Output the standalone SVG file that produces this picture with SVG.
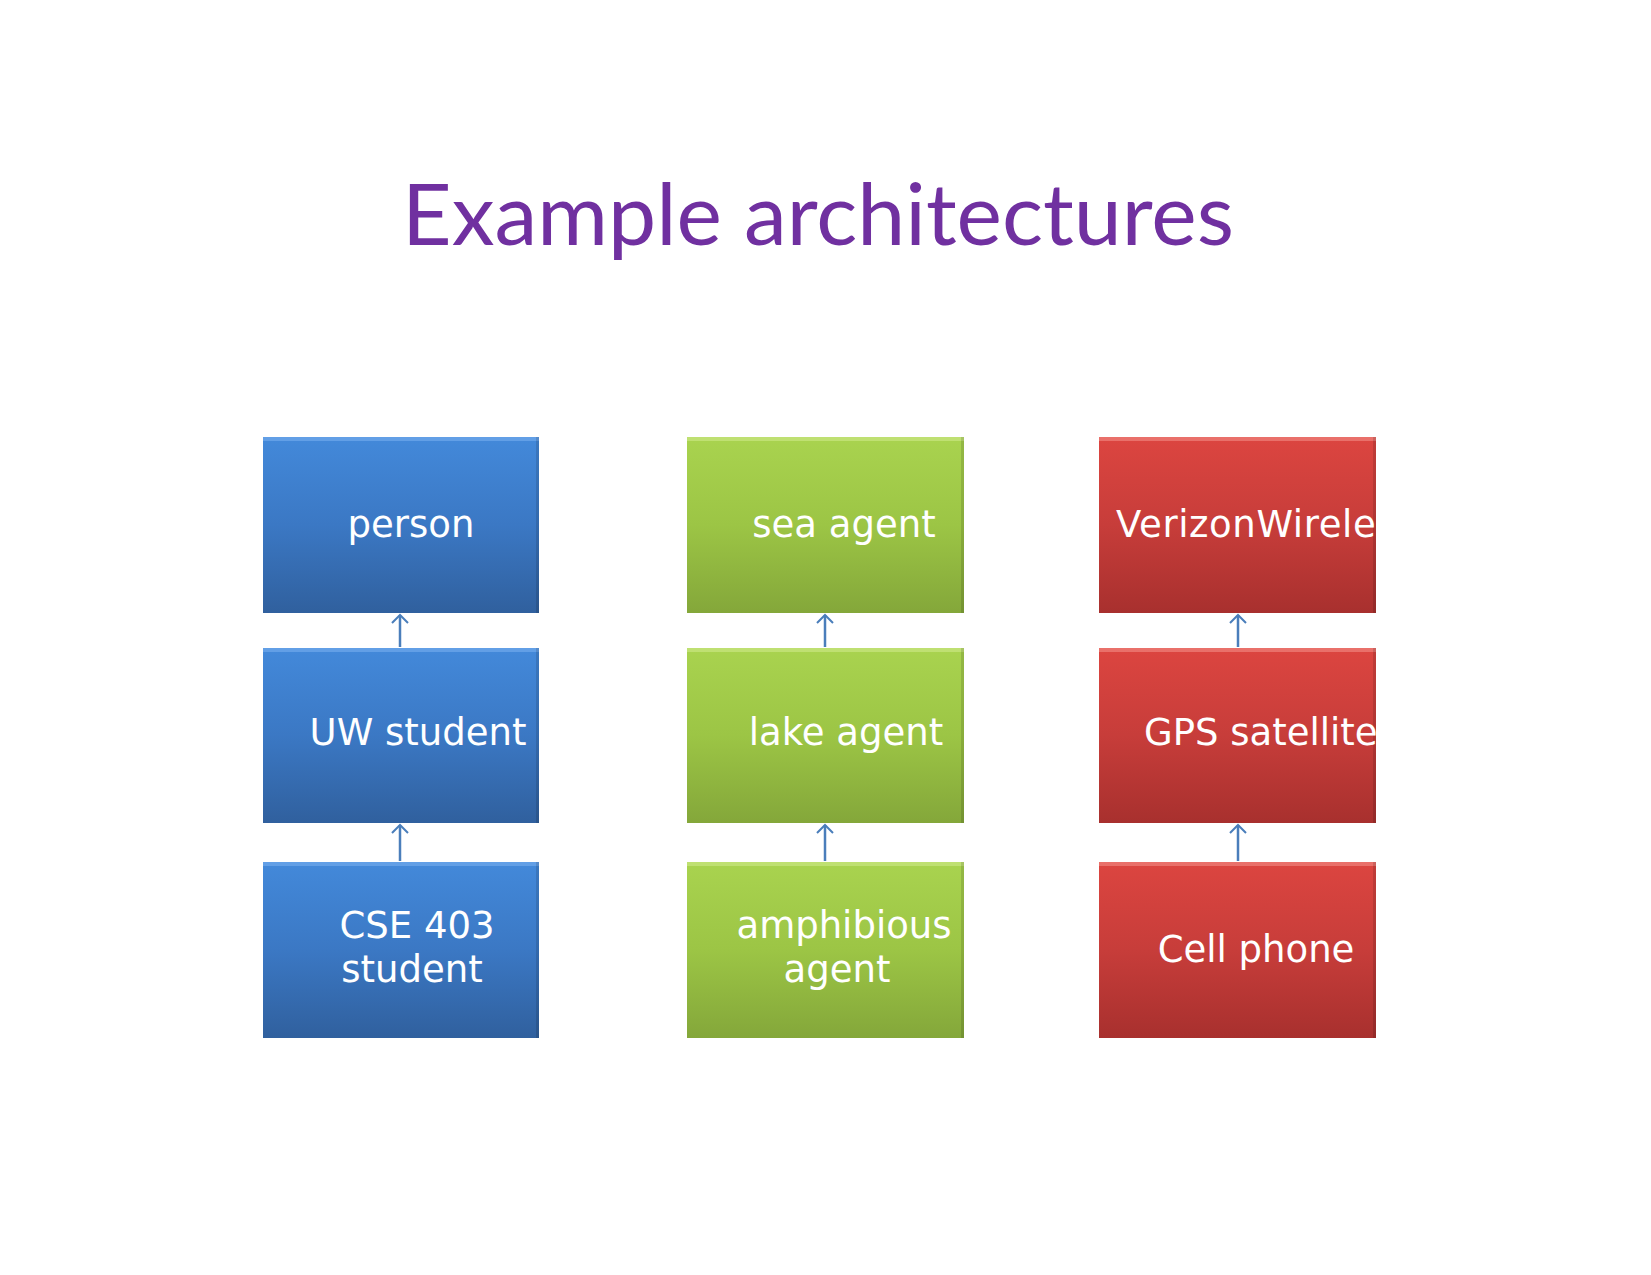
<svg xmlns="http://www.w3.org/2000/svg" width="1651" height="1275" viewBox="0 0 1651 1275">
<style>
.lbl{font-family:"DejaVu Sans",sans-serif;font-size:37px;fill:#ffffff;text-anchor:middle}
.lft{text-anchor:start}
.title{font-family:Lato,"Open Sans",sans-serif;font-size:86px;fill:#7030A0;text-anchor:middle}
.conn{stroke:#4A7EBB;stroke-width:2.5;fill:none;marker-end:url(#arr)}
.hiB{fill:#6AA5E8;opacity:0.8}
.hiG{fill:#C4E47A;opacity:0.8}
.hiR{fill:#EC7A74;opacity:0.8}
.edge{fill:#000000;opacity:0.12}
</style>
<defs>
<linearGradient id="gB" x1="0" y1="0" x2="0" y2="1">
<stop offset="0" stop-color="#4389DA"/><stop offset="0.5" stop-color="#3B78C4"/><stop offset="1" stop-color="#30609E"/>
</linearGradient>
<linearGradient id="gG" x1="0" y1="0" x2="0" y2="1">
<stop offset="0" stop-color="#A9D34F"/><stop offset="0.5" stop-color="#9CC545"/><stop offset="1" stop-color="#84A73A"/>
</linearGradient>
<linearGradient id="gR" x1="0" y1="0" x2="0" y2="1">
<stop offset="0" stop-color="#DC4540"/><stop offset="0.5" stop-color="#C73D3A"/><stop offset="1" stop-color="#A8302E"/>
</linearGradient>
<marker id="arr" markerWidth="18" markerHeight="18" refX="9" refY="9" orient="auto" markerUnits="userSpaceOnUse">
<path d="M1,1 L9,9 L1,17" fill="none" stroke="#4A7EBB" stroke-width="2"/>
</marker>
<clipPath id="cR1"><rect x="1099" y="437" width="277" height="176"/></clipPath>
<clipPath id="cR2"><rect x="1099" y="648" width="277" height="175"/></clipPath>
</defs>
<rect width="1651" height="1275" fill="#ffffff"/>
<text class="title" x="818" y="245">Example architectures</text>

<g id="connectors">
<line class="conn" x1="400" y1="647" x2="400" y2="615"/>
<line class="conn" x1="400" y1="861" x2="400" y2="825"/>
<line class="conn" x1="825" y1="647" x2="825" y2="615"/>
<line class="conn" x1="825" y1="861" x2="825" y2="825"/>
<line class="conn" x1="1238" y1="647" x2="1238" y2="615"/>
<line class="conn" x1="1238" y1="861" x2="1238" y2="825"/>
</g>

<g id="person">
<rect x="263" y="437" width="276" height="176" fill="url(#gB)"/>
<rect class="hiB" x="263" y="437" width="276" height="4"/>
<rect class="edge" x="536" y="437" width="3" height="176"/>
<text class="lbl" x="411" y="537">person</text>
</g>
<g id="uw-student">
<rect x="263" y="648" width="276" height="175" fill="url(#gB)"/>
<rect class="hiB" x="263" y="648" width="276" height="4"/>
<rect class="edge" x="536" y="648" width="3" height="175"/>
<text class="lbl" x="418" y="745">UW student</text>
</g>
<g id="cse403-student">
<rect x="263" y="862" width="276" height="176" fill="url(#gB)"/>
<rect class="hiB" x="263" y="862" width="276" height="4"/>
<rect class="edge" x="536" y="862" width="3" height="176"/>
<text class="lbl" x="417" y="938">CSE 403</text>
<text class="lbl" x="412" y="982">student</text>
</g>

<g id="sea-agent">
<rect x="687" y="437" width="277" height="176" fill="url(#gG)"/>
<rect class="hiG" x="687" y="437" width="277" height="4"/>
<rect class="edge" x="961" y="437" width="3" height="176"/>
<text class="lbl" x="844" y="537">sea agent</text>
</g>
<g id="lake-agent">
<rect x="687" y="648" width="277" height="175" fill="url(#gG)"/>
<rect class="hiG" x="687" y="648" width="277" height="4"/>
<rect class="edge" x="961" y="648" width="3" height="175"/>
<text class="lbl" x="846" y="745">lake agent</text>
</g>
<g id="amphibious-agent">
<rect x="687" y="862" width="277" height="176" fill="url(#gG)"/>
<rect class="hiG" x="687" y="862" width="277" height="4"/>
<rect class="edge" x="961" y="862" width="3" height="176"/>
<text class="lbl" x="844" y="938">amphibious</text>
<text class="lbl" x="837" y="982">agent</text>
</g>

<g id="verizon">
<rect x="1099" y="437" width="277" height="176" fill="url(#gR)"/>
<rect class="hiR" x="1099" y="437" width="277" height="4"/>
<rect class="edge" x="1373" y="437" width="3" height="176"/>
<text class="lbl lft" x="1116" y="537" letter-spacing="0.6" clip-path="url(#cR1)">VerizonWirele</text>
</g>
<g id="gps-satellite">
<rect x="1099" y="648" width="277" height="175" fill="url(#gR)"/>
<rect class="hiR" x="1099" y="648" width="277" height="4"/>
<rect class="edge" x="1373" y="648" width="3" height="175"/>
<text class="lbl lft" x="1144" y="745" clip-path="url(#cR2)">GPS satellite</text>
</g>
<g id="cell-phone">
<rect x="1099" y="862" width="277" height="176" fill="url(#gR)"/>
<rect class="hiR" x="1099" y="862" width="277" height="4"/>
<rect class="edge" x="1373" y="862" width="3" height="176"/>
<text class="lbl" x="1256" y="962">Cell phone</text>
</g>
</svg>
